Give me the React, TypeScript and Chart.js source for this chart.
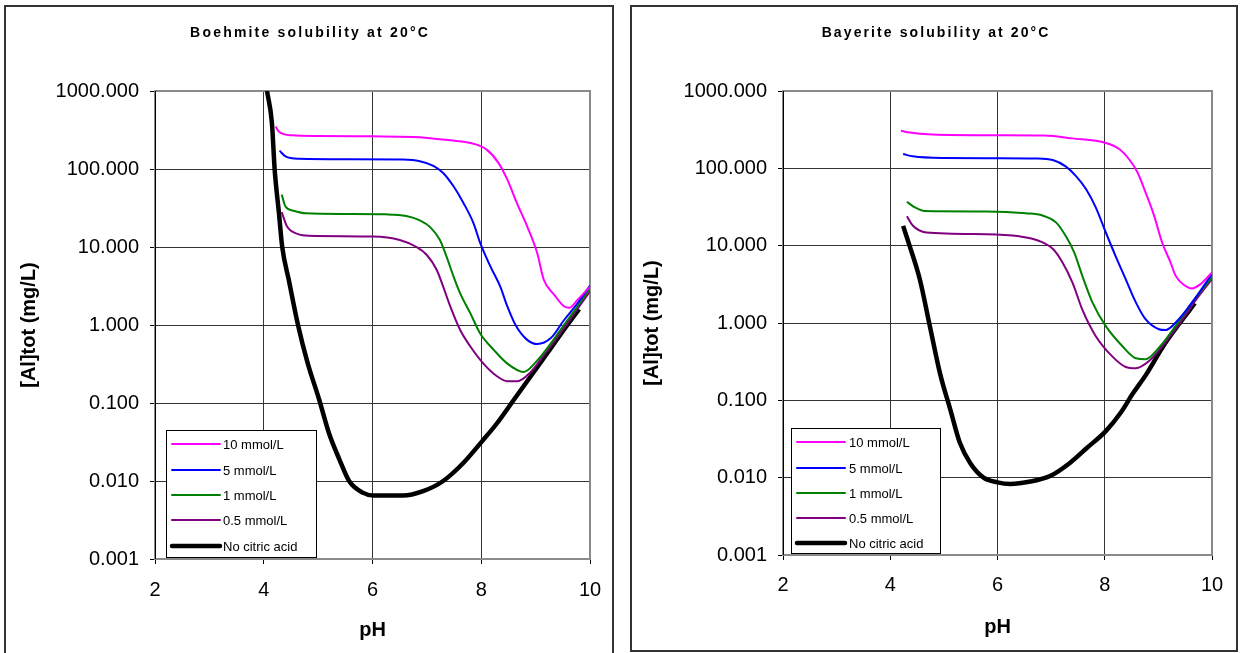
import React, { useEffect, useRef } from "react";
import { Chart, registerables } from "chart.js";

Chart.register(...registerables);

const FONT = '"Liberation Sans", Arial, Helvetica, sans-serif';

const SERIES_LABELS = ["10 mmol/L", "5 mmol/L", "1 mmol/L", "0.5 mmol/L", "No citric acid"];
const SERIES_COLORS = ["#FF00FF", "#0000FF", "#008000", "#800080", "#000000"];
const SERIES_WIDTHS = [2, 2, 2, 2, 4.5];

const Y_TICKS = [0.001, 0.01, 0.1, 1, 10, 100, 1000];
const X_TICKS = [2, 4, 6, 8, 10];

const BOE_TITLE = "Boehmite solubility at 20°C";
const BAY_TITLE = "Bayerite solubility at 20°C";
const Y_TITLE = "[Al]tot (mg/L)";
const X_TITLE = "pH";

// ---------- Boehmite ----------
const boePH10 = [4.22, 4.28, 4.52, 5.0, 6.0, 6.75, 7.43, 7.86, 8.1, 8.32, 8.48, 8.66, 8.85, 9.03, 9.15, 9.34, 9.52, 9.62, 9.77, 10.0];
const boeAl10 = [350, 300, 270, 265, 262, 258, 233, 211, 177, 119, 73, 36, 18, 8.3, 3.8, 2.45, 1.74, 1.66, 2.1, 3.1];

const boePH5 = [4.29, 4.4, 4.65, 5.5, 6.56, 6.87, 7.12, 7.3, 7.49, 7.67, 7.86, 7.98, 8.17, 8.35, 8.48, 8.63, 8.85, 9.03, 9.28, 9.52, 9.77, 10.0];
const boeAl5 = [172, 145, 135, 133, 132, 126, 110, 89, 60, 37, 20, 11.3, 5.6, 3.1, 1.73, 1.0, 0.64, 0.57, 0.68, 1.15, 1.9, 3.2];

const boePH1 = [4.33, 4.4, 4.56, 4.77, 5.5, 6.25, 6.62, 6.87, 7.06, 7.24, 7.36, 7.49, 7.61, 7.8, 7.98, 8.23, 8.48, 8.78, 9.03, 9.28, 9.52, 9.77, 10.0];
const boeAl1 = [47, 33, 29, 27, 26.5, 26.2, 25, 22, 18, 12.3, 7.6, 4.2, 2.56, 1.41, 0.78, 0.48, 0.32, 0.25, 0.35, 0.58, 1.0, 1.73, 2.95];

const boePH05 = [4.33, 4.43, 4.62, 4.83, 6.0, 6.5, 6.81, 7.0, 7.18, 7.3, 7.43, 7.61, 7.8, 8.04, 8.29, 8.48, 8.66, 8.91, 9.15, 9.4, 9.71, 10.0];
const boeAl05 = [28, 18.3, 14.7, 13.9, 13.6, 12.3, 10, 7.9, 5.1, 3.1, 1.73, 0.87, 0.53, 0.32, 0.22, 0.19, 0.19, 0.25, 0.41, 0.7, 1.41, 2.7];

const boePH0 = [4.06, 4.15, 4.2, 4.28, 4.34, 4.46, 4.63, 4.8, 5.02, 5.2, 5.39, 5.57, 5.82, 6.02, 6.56, 6.93, 7.3, 7.67, 8.01, 8.29, 8.6, 8.91, 9.22, 9.52, 9.8];
const boeAl0 = [1000, 390, 100, 27, 10, 3.8, 1.0, 0.34, 0.11, 0.041, 0.019, 0.01, 0.0071, 0.0065, 0.0065, 0.0074, 0.01, 0.017, 0.032, 0.055, 0.11, 0.22, 0.44, 0.87, 1.6];

// ---------- Bayerite ----------
const bayPH10 = [4.2, 4.33, 4.79, 6.0, 6.87, 7.4, 8.02, 8.27, 8.45, 8.61, 8.76, 8.92, 9.07, 9.23, 9.32, 9.48, 9.63, 9.79, 10.0];
const bayAl10 = [307, 293, 274, 268, 265, 244, 213, 178, 132, 89, 49, 24.5, 11, 6.0, 4.1, 3.1, 2.8, 3.2, 4.5];

const bayPH5 = [4.24, 4.42, 4.98, 6.0, 6.72, 7.03, 7.27, 7.46, 7.65, 7.83, 8.02, 8.2, 8.39, 8.58, 8.76, 9.01, 9.13, 9.38, 9.63, 10.0];
const bayAl5 = [153, 143, 136, 135, 134, 128, 106, 80, 54, 31.5, 14.8, 7.4, 3.7, 1.85, 1.12, 0.83, 0.81, 1.12, 1.85, 4.3];

const bayPH1 = [4.31, 4.45, 4.64, 5.79, 6.53, 6.84, 7.09, 7.27, 7.43, 7.58, 7.77, 8.02, 8.33, 8.58, 8.76, 9.01, 9.32, 9.63, 10.0];
const bayAl1 = [37, 31.5, 28, 27.7, 26.2, 24.5, 20, 13.4, 8.2, 4.1, 1.85, 0.91, 0.5, 0.35, 0.34, 0.48, 0.91, 1.85, 3.9];

const bayPH05 = [4.31, 4.42, 4.67, 5.79, 6.41, 6.78, 7.03, 7.21, 7.4, 7.58, 7.83, 8.14, 8.39, 8.58, 8.82, 9.07, 9.38, 9.69, 10.0];
const bayAl05 = [24, 18.2, 14.8, 14.1, 13.2, 11.5, 9.1, 6.1, 3.3, 1.5, 0.68, 0.37, 0.27, 0.26, 0.32, 0.5, 0.95, 1.95, 3.7];

const bayPH0 = [4.24, 4.36, 4.55, 4.74, 4.93, 5.12, 5.3, 5.49, 5.74, 6.0, 6.24, 6.61, 6.98, 7.35, 7.66, 8.02, 8.29, 8.53, 8.78, 9.09, 9.4, 9.68];
const bayAl0 = [18, 10, 3.7, 0.9, 0.22, 0.076, 0.028, 0.0155, 0.01, 0.0087, 0.0083, 0.0089, 0.0105, 0.0155, 0.024, 0.04, 0.068, 0.124, 0.22, 0.5, 1.0, 1.8];

type Layout = {
  area: { left: number; right: number; top: number; bottom: number };
  frame: [number, number, number, number];
  titleX: number;
  titleY: number;
  titleSpacing: number;
  yTitlePad: number;
  xTitlePad: number;
  yTickPad: number;
  xTickPad: number;
  legend: { x: number; y: number; w: number; h: number; lx0: number; lx1: number; tx: number; rows: number[] };
};

const W = 620;
const H = 653;

function buildDatasets(phs: number[][], vals: number[][]) {
  return phs.map((ph, i) => ({
    label: SERIES_LABELS[i],
    data: ph.map((x, j) => ({ x, y: vals[i][j] })),
    borderColor: SERIES_COLORS[i],
    backgroundColor: SERIES_COLORS[i],
    borderWidth: SERIES_WIDTHS[i],
    pointRadius: 0,
    fill: false,
    cubicInterpolationMode: "monotone" as const,
  }));
}

function makePlugin(title: string, L: Layout) {
  return {
    id: "decor",
    beforeDraw(chart: any) {
      const ctx = chart.ctx;
      ctx.save();
      ctx.fillStyle = "#ffffff";
      ctx.fillRect(0, 0, chart.width, chart.height);
      ctx.strokeStyle = "#333333";
      ctx.lineWidth = 2;
      const [fx, fy, fw, fh] = L.frame;
      ctx.strokeRect(fx, fy, fw, fh);
      ctx.restore();
    },
    beforeDatasetsDraw(chart: any) {
      const ctx = chart.ctx;
      const { left, top, right, bottom } = chart.chartArea;
      ctx.save();
      ctx.strokeStyle = "#8a8a8a";
      ctx.lineWidth = 2;
      ctx.strokeRect(left, top, right - left, bottom - top);
      ctx.strokeStyle = "#000000";
      ctx.lineWidth = 1;
      ctx.beginPath();
      ctx.moveTo(Math.round(left) + 0.5, top);
      ctx.lineTo(Math.round(left) + 0.5, bottom);
      ctx.stroke();
      ctx.restore();
    },
    afterDraw(chart: any) {
      const ctx = chart.ctx;
      ctx.save();
      // title
      ctx.font = `bold 14px ${FONT}`;
      ctx.fillStyle = "#000000";
      ctx.textAlign = "center";
      ctx.textBaseline = "middle";
      (ctx as any).letterSpacing = `${L.titleSpacing}px`;
      ctx.fillText(title, L.titleX + L.titleSpacing / 2, L.titleY);
      (ctx as any).letterSpacing = "0px";
      // legend
      const lg = L.legend;
      ctx.fillStyle = "#ffffff";
      ctx.fillRect(lg.x, lg.y, lg.w, lg.h);
      ctx.strokeStyle = "#000000";
      ctx.lineWidth = 1;
      ctx.strokeRect(lg.x + 0.5, lg.y + 0.5, lg.w, lg.h);
      ctx.font = `13px ${FONT}`;
      ctx.textAlign = "left";
      ctx.textBaseline = "middle";
      chart.data.datasets.forEach((ds: any, i: number) => {
        const y = lg.rows[i];
        ctx.strokeStyle = ds.borderColor;
        ctx.lineWidth = ds.borderWidth;
        ctx.lineCap = "round";
        ctx.beginPath();
        ctx.moveTo(lg.lx0, y);
        ctx.lineTo(lg.lx1, y);
        ctx.stroke();
        ctx.fillStyle = "#000000";
        ctx.fillText(ds.label, lg.tx, y + 1);
      });
      ctx.restore();
    },
  };
}

function SolubilityChart(props: { title: string; phs: number[][]; vals: number[][]; layout: Layout; offsetX: number }) {
  const ref = useRef<HTMLCanvasElement | null>(null);
  useEffect(() => {
    if (!ref.current) return;
    const L = props.layout;
    const chart = new Chart(ref.current, {
      type: "line",
      data: { datasets: buildDatasets(props.phs, props.vals) as any },
      options: {
        animation: false,
        responsive: false,
        devicePixelRatio: 1,
        layout: { padding: { left: 0, top: L.area.top, right: W - L.area.right, bottom: 0 } },
        plugins: { legend: { display: false }, title: { display: false }, tooltip: { enabled: false } },
        scales: {
          x: {
            type: "linear",
            min: 2,
            max: 10,
            afterBuildTicks: (s: any) => {
              s.ticks = X_TICKS.map((v) => ({ value: v }));
            },
            afterFit: (s: any) => {
              s.height = H - L.area.bottom;
            },
            ticks: {
              font: { family: FONT, size: 20 },
              color: "#000000",
              padding: L.xTickPad,
              maxRotation: 0,
            },
            grid: { color: "#333333", lineWidth: 1, tickLength: 5, tickColor: "#000000", drawTicks: true },
            border: { display: false },
            title: {
              display: true,
              text: X_TITLE,
              font: { family: FONT, size: 20, weight: "bold" },
              color: "#000000",
              padding: { top: 0, bottom: L.xTitlePad },
            },
          },
          y: {
            type: "logarithmic",
            min: 0.001,
            max: 1000,
            afterBuildTicks: (s: any) => {
              s.ticks = Y_TICKS.map((v) => ({ value: v }));
            },
            afterFit: (s: any) => {
              s.width = L.area.left;
            },
            ticks: {
              font: { family: FONT, size: 20 },
              color: "#000000",
              padding: L.yTickPad,
              callback: (v: any) => Number(v).toFixed(3),
            },
            grid: { color: "#333333", lineWidth: 1, tickLength: 5, tickColor: "#000000", drawTicks: true },
            border: { display: false },
            title: {
              display: true,
              text: Y_TITLE,
              font: { family: FONT, size: 20, weight: "bold" },
              color: "#000000",
              padding: { top: L.yTitlePad, bottom: 0 },
            },
          },
        },
      },
      plugins: [makePlugin(props.title, L) as any],
    });
    return () => chart.destroy();
  }, []);
  return (
    <canvas
      ref={ref}
      width={W}
      height={H}
      style={{ position: "absolute", left: props.offsetX, top: 0, width: W, height: H }}
    />
  );
}

const boeLayout: Layout = {
  area: { left: 155, right: 590, top: 91, bottom: 559 },
  frame: [5, 6, 608, 670],
  titleX: 309,
  titleY: 33,
  titleSpacing: 2.2,
  yTitlePad: 17,
  xTitlePad: 11,
  yTickPad: 11,
  xTickPad: 14,
  legend: { x: 166, y: 430, w: 150, h: 127, lx0: 172, lx1: 220, tx: 223, rows: [444, 470, 495, 520, 546] },
};

const bayLayout: Layout = {
  area: { left: 163, right: 592, top: 91, bottom: 555 },
  frame: [11, 6, 606, 645],
  titleX: 315,
  titleY: 33,
  titleSpacing: 2.1,
  yTitlePad: 20,
  xTitlePad: 14,
  yTickPad: 11,
  xTickPad: 13,
  legend: { x: 171, y: 428, w: 149, h: 125, lx0: 177, lx1: 225, tx: 229, rows: [442, 468, 493, 518, 543] },
};

export default function App() {
  return (
    <div style={{ position: "absolute", left: 0, top: 0, width: 1240, height: 653, overflow: "hidden", background: "#ffffff" }}>
      <SolubilityChart
        title={BOE_TITLE}
        phs={[boePH10, boePH5, boePH1, boePH05, boePH0]}
        vals={[boeAl10, boeAl5, boeAl1, boeAl05, boeAl0]}
        layout={boeLayout}
        offsetX={0}
      />
      <SolubilityChart
        title={BAY_TITLE}
        phs={[bayPH10, bayPH5, bayPH1, bayPH05, bayPH0]}
        vals={[bayAl10, bayAl5, bayAl1, bayAl05, bayAl0]}
        layout={bayLayout}
        offsetX={620}
      />
    </div>
  );
}
